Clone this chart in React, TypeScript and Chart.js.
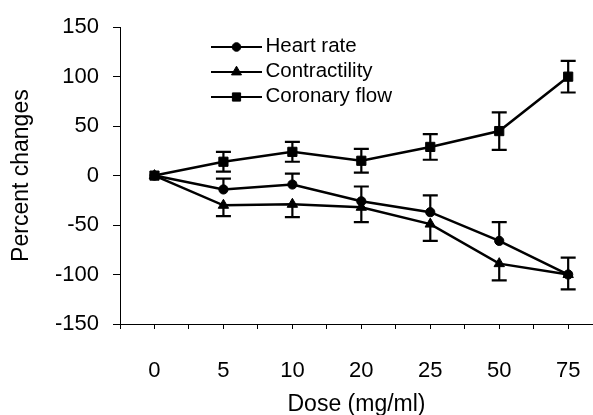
import React, { useEffect, useRef } from 'react';
import { Chart, registerables } from 'chart.js';

Chart.register(...registerables);

const doses = ['0', '5', '10', '20', '25', '50', '75'];
const seriesNames = ['Heart rate', 'Contractility', 'Coronary flow'];
const heartRate = [0, -14, -9, -26, -37, -66, -100];
const heartRateErr = [0, 11, 11, 15, 17, 19, 17];
const contractility = [0, -30, -29, -32, -49, -89, -100];
const contractilityErr = [0, 11, 13, 15, 17, 17, 15];
const coronaryFlow = [0, 14, 24, 15, 29, 45, 100];
const coronaryFlowErr = [0, 10, 10, 12, 13, 19, 16];
const yMin = -150;
const yMax = 150;
const yStep = 50;

const FONT = "'Liberation Sans', Arial, Helvetica, sans-serif";

function drawMarker(ctx: CanvasRenderingContext2D, style: string, x: number, y: number, r: number) {
  ctx.beginPath();
  if (style === 'circle') {
    ctx.arc(x, y, r, 0, Math.PI * 2);
  } else if (style === 'triangle') {
    ctx.moveTo(x, y - r);
    ctx.lineTo(x + r * Math.sin((2 * Math.PI) / 3), y - r * Math.cos((2 * Math.PI) / 3));
    ctx.lineTo(x + r * Math.sin((4 * Math.PI) / 3), y - r * Math.cos((4 * Math.PI) / 3));
    ctx.closePath();
  } else {
    const s = Math.SQRT1_2 * r;
    ctx.rect(x - s, y - s, 2 * s, 2 * s);
  }
  ctx.fill();
  ctx.stroke();
}

export default function App() {
  const ref = useRef<HTMLCanvasElement>(null);

  useEffect(() => {
    const canvas = ref.current;
    if (!canvas) return;
    const mk = (vals: number[]) => vals.map((v, i) => ({ x: i, y: v }));

    const errPlugin = {
      id: 'errbars',
      afterDatasetsDraw(chart: any) {
        const { ctx, scales } = chart;
        const xs = scales.x;
        const ys = scales.y;
        ctx.save();
        ctx.strokeStyle = '#000';
        ctx.lineWidth = 2.2;
        chart.data.datasets.forEach((ds: any) => {
          ds.data.forEach((p: any, i: number) => {
            const e = ds.errors[i];
            if (!e) return;
            const px = xs.getPixelForValue(p.x);
            const y0 = ys.getPixelForValue(p.y);
            const ends: number[] = [];
            if (ds.errDir >= 0) ends.push(p.y + e);
            if (ds.errDir <= 0) ends.push(p.y - e);
            ends.forEach((v) => {
              const py = ys.getPixelForValue(v);
              ctx.beginPath();
              ctx.moveTo(px, y0);
              ctx.lineTo(px, py);
              ctx.moveTo(px - 7.5, py);
              ctx.lineTo(px + 7.5, py);
              ctx.stroke();
            });
          });
        });
        ctx.restore();
      },
    };

    const legendPlugin = {
      id: 'customLegend',
      afterDraw(chart: any) {
        const { ctx } = chart;
        ctx.save();
        chart.data.datasets.forEach((ds: any, i: number) => {
          const y = 47 + 25 * i;
          ctx.strokeStyle = '#000';
          ctx.fillStyle = '#000';
          ctx.lineWidth = 2.2;
          ctx.beginPath();
          ctx.moveTo(211, y);
          ctx.lineTo(262, y);
          ctx.stroke();
          ctx.lineWidth = 1;
          drawMarker(ctx, ds.pointStyle, 236.5, y, ds.pointStyle === 'circle' ? 4.3 : 5.8);
          ctx.font = `20.5px ${FONT}`;
          ctx.textAlign = 'left';
          ctx.textBaseline = 'middle';
          ctx.fillText(ds.label, 265.5, y - 1);
        });
        ctx.restore();
      },
    };

    const mkDs = (label: string, vals: number[], errs: number[], style: string, r: number, dir: number) => ({
      label,
      data: mk(vals),
      errors: errs,
      errDir: dir,
      borderColor: '#000',
      backgroundColor: '#000',
      borderWidth: 2.5,
      pointStyle: style,
      pointRadius: r,
      pointBackgroundColor: '#000',
      pointBorderColor: '#000',
      pointBorderWidth: 1,
      tension: 0,
      clip: false,
    });

    const chart = new Chart(canvas, {
      type: 'line',
      data: {
        datasets: [
          mkDs(seriesNames[0], heartRate, heartRateErr, 'circle', 4.6, 1),
          mkDs(seriesNames[1], contractility, contractilityErr, 'triangle', 6, -1),
          mkDs(seriesNames[2], coronaryFlow, coronaryFlowErr, 'rect', 6.5, 0),
        ] as any,
      },
      options: {
        responsive: false,
        animation: false,
        devicePixelRatio: 1,
        layout: { autoPadding: false, padding: { top: 26, right: 0, bottom: 0, left: 0 } },
        plugins: {
          legend: { display: false },
          tooltip: { enabled: false },
        },
        scales: {
          x: {
            type: 'linear',
            min: -0.5,
            max: 6.36,
            afterFit(scale: any) {
              scale.height = 91;
              scale.paddingRight = 0;
              scale.paddingLeft = 0;
            },
            afterBuildTicks(scale: any) {
              const t: any[] = [];
              for (let k = -1; k <= (doses.length - 1) * 2; k++) t.push({ value: k / 2 });
              scale.ticks = t;
            },
            ticks: {
              autoSkip: false,
              maxRotation: 0,
              minRotation: 0,
              padding: 28.5,
              color: '#000',
              font: { size: 22, family: FONT },
              callback: (v: any) => (Number.isInteger(v) && v >= 0 ? doses[v] : ''),
            },
            grid: {
              display: true,
              drawOnChartArea: false,
              drawTicks: true,
              tickLength: 5,
              color: '#000',
              lineWidth: 1,
            },
            border: { display: true, color: '#000', width: 1 },
            title: {
              display: true,
              text: 'Dose (mg/ml)',
              color: '#000',
              font: { size: 23, family: FONT },
              padding: { top: 0, bottom: -3 },
            },
          },
          y: {
            type: 'linear',
            min: yMin,
            max: yMax,
            afterFit(scale: any) {
              scale.width = 120;
            },
            ticks: {
              stepSize: yStep,
              padding: 14,
              color: '#000',
              font: { size: 22, family: FONT },
            },
            grid: {
              display: true,
              drawOnChartArea: false,
              drawTicks: true,
              tickLength: 7,
              color: '#000',
              lineWidth: 1,
            },
            border: { display: true, color: '#000', width: 1 },
            title: {
              display: true,
              text: 'Percent changes',
              color: '#000',
              font: { size: 23, family: FONT },
              padding: { top: 8, bottom: 0 },
            },
          },
        },
      } as any,
      plugins: [errPlugin, legendPlugin],
    });

    return () => chart.destroy();
  }, []);

  return (
    <div style={{ position: 'absolute', left: 0, top: 0, width: 593, height: 415, background: '#fff' }}>
      <canvas ref={ref} width={593} height={415} style={{ display: 'block', width: 593, height: 415 }} />
    </div>
  );
}
